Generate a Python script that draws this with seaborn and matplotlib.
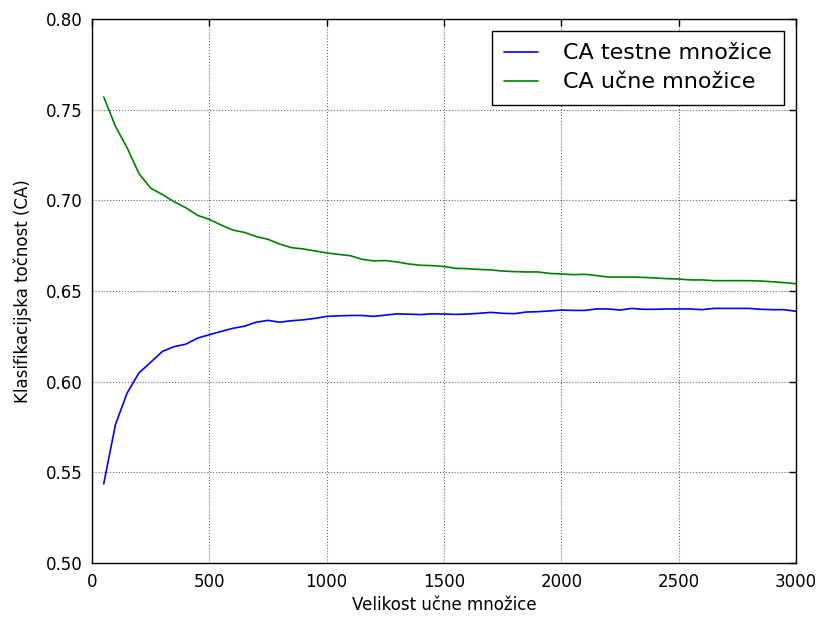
import numpy as np
import pandas as pd
import matplotlib
matplotlib.use("Agg")
import matplotlib.pyplot as plt
import seaborn as sns

sizes = list(range(50, 3001, 50))

test_ca = [0.5437, 0.5764, 0.5938, 0.6048, 0.6107, 0.6167, 0.6193, 0.6207, 0.6240, 0.6259,
           0.6277, 0.6294, 0.6306, 0.6328, 0.6338, 0.6328, 0.6336, 0.6341, 0.6349, 0.6360,
           0.6363, 0.6365, 0.6365, 0.6360, 0.6367, 0.6374, 0.6372, 0.6370, 0.6374, 0.6373,
           0.6371, 0.6373, 0.6377, 0.6382, 0.6377, 0.6375, 0.6384, 0.6386, 0.6390, 0.6395,
           0.6393, 0.6393, 0.6401, 0.6401, 0.6395, 0.6404, 0.6399, 0.6399, 0.6401, 0.6401,
           0.6401, 0.6397, 0.6404, 0.6404, 0.6404, 0.6404, 0.6399, 0.6397, 0.6397, 0.6388]

train_ca = [0.7570, 0.7408, 0.7289, 0.7148, 0.7067, 0.7032, 0.6992, 0.6959, 0.6917, 0.6895,
            0.6864, 0.6836, 0.6823, 0.6800, 0.6785, 0.6759, 0.6739, 0.6732, 0.6721, 0.6710,
            0.6702, 0.6695, 0.6675, 0.6666, 0.6668, 0.6660, 0.6649, 0.6642, 0.6640, 0.6635,
            0.6625, 0.6623, 0.6619, 0.6616, 0.6610, 0.6607, 0.6605, 0.6605, 0.6597, 0.6594,
            0.6590, 0.6592, 0.6585, 0.6577, 0.6577, 0.6577, 0.6575, 0.6572, 0.6568, 0.6566,
            0.6561, 0.6561, 0.6557, 0.6557, 0.6557, 0.6557, 0.6555, 0.6551, 0.6546, 0.6540]

series_names = ["CA testne množice", "CA učne množice"]
x_ticks = [0, 500, 1000, 1500, 2000, 2500, 3000]
y_ticks = [0.50, 0.55, 0.60, 0.65, 0.70, 0.75, 0.80]

df = pd.concat([
    pd.DataFrame({"size": sizes, "ca": test_ca, "series": series_names[0]}),
    pd.DataFrame({"size": sizes, "ca": train_ca, "series": series_names[1]}),
])

sns.set_style("white")
plt.rcParams["font.family"] = ["DejaVu Sans"]
plt.rcParams["text.color"] = "black"
plt.rcParams["axes.labelcolor"] = "black"

fig = plt.figure(figsize=(8.21, 6.18), dpi=100)
ax = fig.add_axes([92 / 821, 1 - 563 / 618, (796 - 92) / 821, (563 - 19) / 618])

colors = {series_names[0]: "#0000ff", series_names[1]: "#008000"}
sns.lineplot(data=df, x="size", y="ca", hue="series", palette=colors,
             linewidth=1.2, ax=ax, legend=False)

handles = [plt.Line2D([], [], color=colors[n], lw=1.2) for n in series_names]
leg = ax.legend(handles, series_names, loc="upper right", fontsize=16,
                frameon=True, fancybox=False, framealpha=1, edgecolor="black",
                borderpad=0.55, handlelength=1.55, handletextpad=1.1,
                labelspacing=0.4, borderaxespad=0.55)
leg.get_frame().set_linewidth(1.0)
for t in leg.get_texts():
    t.set_color("black")

ax.set_xlim(0, 3000)
ax.set_ylim(0.50, 0.80)
ax.set_xticks(x_ticks)
ax.set_yticks(y_ticks)
ax.set_yticklabels([f"{v:.2f}" for v in y_ticks])
ax.grid(True, color="black", linestyle=":", linewidth=0.8, alpha=0.6)
ax.tick_params(direction="in", top=True, right=True, length=5, width=1,
               labelsize=12, colors="black", pad=7)
for s in ax.spines.values():
    s.set_visible(True)
    s.set_color("black")
    s.set_linewidth(1.0)

ax.set_xlabel("Velikost učne množice", fontsize=12, labelpad=4)
ax.set_ylabel("Klasifikacijska točnost (CA)", fontsize=12, labelpad=10)

fig.savefig("out.png", dpi=100, facecolor="white")
